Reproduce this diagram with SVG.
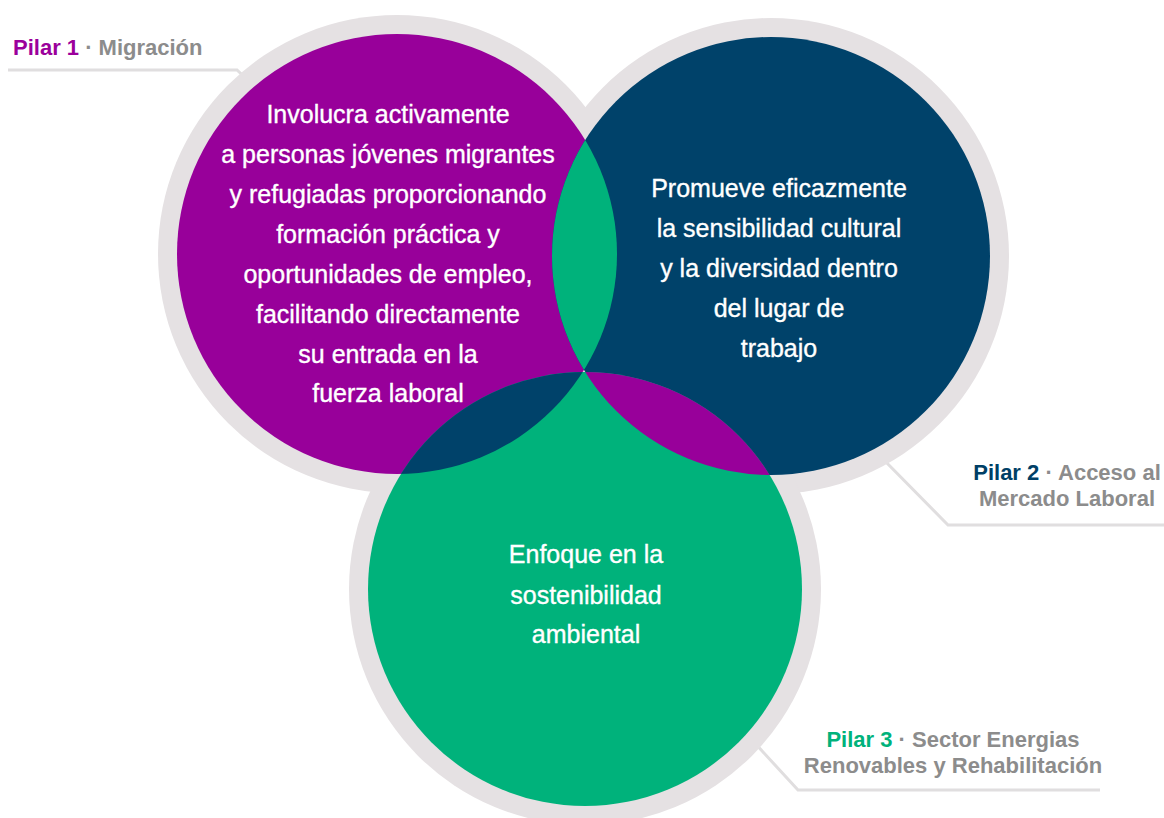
<svg xmlns="http://www.w3.org/2000/svg" width="1164" height="818" viewBox="0 0 1164 818">
  <style>
    .ring { fill: #e5e1e3; }
    .lead { fill: none; stroke: #e0dedf; stroke-width: 3; }
    .body { font-family: "Liberation Sans", Arial, sans-serif; font-size: 25px; fill: #ffffff; text-anchor: middle; stroke: #ffffff; stroke-width: 0.35; }
    .lab { font-family: "Liberation Sans", Arial, sans-serif; font-size: 22px; font-weight: bold; fill: #8c8c8c; }
    .gray { fill: #8c8c8c; }
  </style>
  <defs>
    <clipPath id="clipP"><circle cx="397" cy="254" r="220"/></clipPath>
    <clipPath id="clipB"><circle cx="771" cy="256" r="219"/></clipPath>
  </defs>
  <rect width="1164" height="818" fill="#ffffff"/>

  <g id="connectors">
    <polyline class="lead" points="8,70 237,70 256,88"/>
    <polyline class="lead" points="880,456 948,525 1164,525"/>
    <polyline class="lead" points="752,740 798,790 1100,790"/>
  </g>

  <g id="rings">
    <circle class="ring" cx="397" cy="254" r="239"/>
    <circle class="ring" cx="771" cy="256" r="238"/>
    <circle class="ring" cx="585" cy="589" r="236"/>
  </g>

  <g id="pilar1">
    <circle cx="397" cy="254" r="220" fill="#98009a"/>
  </g>
  <g id="pilar2">
    <circle cx="771" cy="256" r="219" fill="#00426a"/>
  </g>
  <g id="pilar3">
    <circle cx="585" cy="589" r="217" fill="#00b27b"/>
  </g>

  <g id="overlaps">
    <circle cx="585" cy="589" r="217" fill="#00426a" clip-path="url(#clipP)"/>
    <circle cx="585" cy="589" r="217" fill="#98009a" clip-path="url(#clipB)"/>
    <circle cx="771" cy="256" r="219" fill="#00b27b" clip-path="url(#clipP)"/>
  </g>

  <g id="pilar1-text">
    <text class="body" x="388" y="123">Involucra activamente</text>
    <text class="body" x="388" y="163">a personas jóvenes migrantes</text>
    <text class="body" x="388" y="203">y refugiadas proporcionando</text>
    <text class="body" x="388" y="243">formación práctica y</text>
    <text class="body" x="388" y="283">oportunidades de empleo,</text>
    <text class="body" x="388" y="323">facilitando directamente</text>
    <text class="body" x="388" y="363">su entrada en la</text>
    <text class="body" x="388" y="402">fuerza laboral</text>
    <text class="lab" x="13" y="55"><tspan fill="#9b009b">Pilar 1</tspan><tspan class="gray"> · Migración</tspan></text>
  </g>

  <g id="pilar2-text">
    <text class="body" x="779" y="197">Promueve eficazmente</text>
    <text class="body" x="779" y="237">la sensibilidad cultural</text>
    <text class="body" x="779" y="277">y la diversidad dentro</text>
    <text class="body" x="779" y="317">del lugar de</text>
    <text class="body" x="779" y="357">trabajo</text>
    <text class="lab" x="1067" y="480" text-anchor="middle"><tspan fill="#003f66">Pilar 2</tspan><tspan class="gray"> · Acceso al</tspan></text>
    <text class="lab" x="1067" y="506" text-anchor="middle">Mercado Laboral</text>
  </g>

  <g id="pilar3-text">
    <text class="body" x="586" y="563">Enfoque en la</text>
    <text class="body" x="586" y="604">sostenibilidad</text>
    <text class="body" x="586" y="643">ambiental</text>
    <text class="lab" x="953" y="747" text-anchor="middle"><tspan fill="#00b27b">Pilar 3</tspan><tspan class="gray"> · Sector Energias</tspan></text>
    <text class="lab" x="953" y="773" text-anchor="middle">Renovables y Rehabilitación</text>
  </g>
</svg>
